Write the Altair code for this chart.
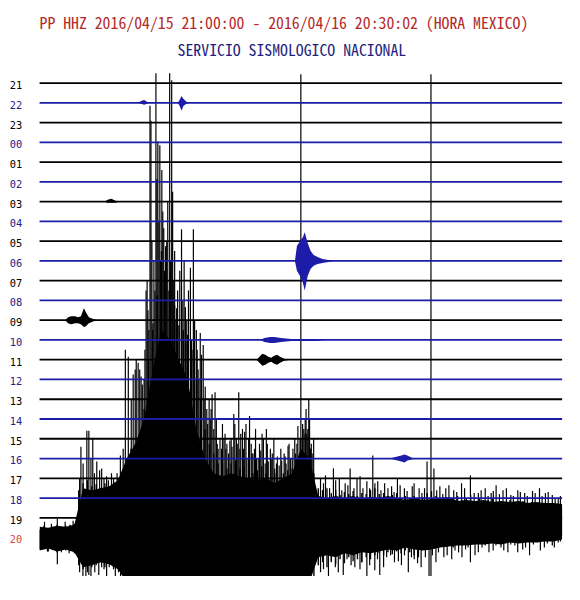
import altair as alt
import pandas as pd

TITLE = "PP HHZ 2016/04/15 21:00:00 - 2016/04/16 20:30:02 (HORA MEXICO)"
SUBTITLE = "SERVICIO SISMOLOGICO NACIONAL"

# one helicorder line per hour, 60 minutes wide
ROW_LABELS = ["21", "22", "23", "00", "01", "02", "03", "04", "05", "06", "07", "08",
              "09", "10", "11", "12", "13", "14", "15", "16", "17", "18", "19", "20"]
ROW_SPACING = 20          # trace offset in amplitude units
MINUTES = 60

# dense core of the large arrival on the 19h line, every 1 min (upper, lower deflection)
CORE_STEP = 1.0
CORE_HI = [-9, -10, -8, -9, -7, 30, 28, 30, 32, 38,
           60, 75, 100, 150, 190, 180, 160, 140, 90, 60,
           45, 42, 45, 42, 40, 38, 40, 35, 40, 45,
           70, 60,
           22, 20, 22, 20, 22, 19, 21, 20, 22, 20,
           18, 20, 18, 19, 20, 21, 17, 18, 17, 18,
           16, 17, 16, 17, 15, 16, 15, 15, 14]
CORE_LO = [-33, -31, -34, -32, -35, -50, -48, -45, -47, -52] + [-65] * 22 + [
           -40, -38, -40, -36, -38, -35, -36, -34, -32, -33,
           -30, -32, -33, -32, -30, -29, -28, -28, -27, -27,
           -26, -27, -25, -26, -25, -25, -24, -24, -22]

# envelope extremes sampled every 0.5 min
ENV_STEP = 0.5
ENV_HI = [-12, -8, -11, -9, -7, -10, -8, -7, -6,
          28, 35, 38, 32, 34, 30, 35, 32, 36, 40, 45,
          60, 70, 75, 85, 110, 160, 190, 225, 270, 275,
          250, 215, 195, 190, 185, 170, 140, 120, 90, 75,
          65, 55, 55, 50, 55, 58, 50, 52, 55, 45,
          48, 52, 45, 40, 45, 38, 45, 48, 50, 60,
          80, 85, 70, 45, 30, 28, 30, 25, 28, 23,
          26, 24, 27, 22, 25, 24, 28, 30, 24, 25,
          20, 23, 25, 20, 22, 18, 22, 20, 21, 25,
          27, 22, 18, 20, 17, 20, 22, 18, 20, 23,
          17, 20, 15, 18, 20, 15, 17, 14, 18, 15,
          13, 17, 14, 16, 13, 15, 12, 14, 12, 13, 10]
ENV_LO = [-32, -30, -34, -32, -35, -31, -33, -32, -36,
          -48, -52, -55, -50, -48, -45, -50, -46, -50, -52, -58] + [-65] * 44 + [
          -48, -45, -50, -44, -47, -42, -46, -40, -44, -42,
          -45, -40, -42, -38, -36, -38, -35, -37, -34, -36,
          -33, -35, -38, -40, -32, -30, -28, -30, -27, -29,
          -26, -30, -26, -24, -27, -23, -25, -22, -24, -21,
          -23, -20, -22, -24, -20, -22, -19, -21, -18, -20,
          -18, -20, -19, -21, -18, -20, -18]

# individual peaks on the 19h line (minute, deflection)
UP_T = [4.75, 5.43, 5.66, 6.11, 6.57, 7.13, 7.70, 8.26, 9.28, 9.85, 10.19, 10.53, 10.75,
        10.98, 11.32, 11.66, 12.00, 12.23, 12.45, 12.68, 12.79, 13.02, 13.13, 13.36, 13.47,
        13.58, 13.81, 14.04, 14.26, 14.49, 14.72, 14.94, 15.17, 15.28, 15.51, 15.74, 16.30,
        16.75, 17.32, 17.66, 18.00, 18.45, 18.79, 19.02, 19.47, 19.81, 20.15, 20.72, 21.17,
        21.51, 21.85, 22.42, 22.87, 23.55, 24.11, 24.68, 25.25, 25.70, 26.04, 26.26, 26.72,
        27.51, 28.08, 28.53, 29.09, 29.66, 30.00, 30.34, 30.91, 31.47, 32.26, 32.83, 33.74,
        34.42, 35.09, 35.66, 36.45, 37.13, 37.58, 38.26, 38.83, 39.62, 40.42, 41.09, 41.89,
        42.79, 43.58, 44.49, 44.94, 45.28, 45.96, 46.64, 47.55, 48.45, 49.47, 50.38, 51.17,
        51.85, 52.42, 53.21, 54.11, 54.91, 55.70, 56.60, 57.40, 58.08, 58.87, 59.55]
UP_V = [72, 88, 88, 80, 57, 50, 42, 45, 63, 170, 163, 120, 145,
        150, 157, 143, 140, 230, 210, 417, 402, 197, 260, 450, 343,
        381, 377, 352, 293, 273, 320, 450, 443, 330, 270, 212, 292,
        213, 253, 292, 190, 187, 175, 133, 120, 125, 127, 80, 80,
        75, 78, 95, 127, 87, 103, 70, 75, 80, 90, 57, 65,
        53, 65, 73, 70, 93, 449, 90, 120, 80, 40, 43, 50,
        40, 35, 50, 40, 30, 37, 63, 37, 35, 32, 40, 30,
        32, 30, 57, 449, 50, 32, 30, 28, 35, 43, 25, 30,
        25, 33, 28, 23, 28, 25, 27, 30, 25, 23, 20]
UP2_T = [4.6, 5.0, 5.9, 6.3, 6.9, 7.4, 7.9, 8.5, 8.9, 9.6,
         11.1, 11.5, 11.8, 12.1, 12.35, 12.55, 12.9, 13.25, 13.7, 13.9, 14.15, 14.35, 14.6,
         14.85, 15.05, 15.4, 15.65, 15.85, 16.1, 16.45, 16.6, 16.9, 17.1, 17.45, 17.8, 18.1,
         18.2, 18.3, 18.6, 18.9, 19.2, 19.3, 19.6, 19.7, 20.0, 20.3, 20.4, 20.5, 20.9, 21.0,
         21.3, 21.4, 21.7, 22.0, 22.1, 22.3, 22.6, 22.7, 23.0, 23.1, 23.3, 23.4, 23.7, 23.8,
         24.0, 24.3, 24.4, 24.5, 24.8, 24.9, 25.1, 25.4, 25.55, 25.9, 26.15, 26.5, 26.6, 26.9,
         27.0, 27.2, 27.3, 27.7, 27.8, 28.2, 28.3, 28.65, 28.8, 29.0, 29.3, 29.4, 29.55, 29.9,
         30.2, 30.5, 30.6, 30.7, 30.8, 31.0, 31.1, 31.2, 31.3,
         32.6, 33.3, 34.0, 34.7, 35.4, 36.1, 36.8, 37.9, 38.5, 39.2, 40.0, 40.7, 41.4, 42.2,
         43.0, 43.9, 44.2, 45.6, 46.3, 47.0, 47.9, 48.8, 49.9, 50.7, 51.5, 52.1, 52.8, 53.6,
         54.4, 55.2, 56.0, 56.9, 57.7, 58.4, 59.2, 59.8]
UP2_V = [40, 55, 60, 45, 48, 40, 38, 40, 45, 70,
         160, 150, 135, 170, 240, 190, 280, 230, 300, 260, 310, 250, 280,
         230, 260, 240, 200, 230, 250, 220, 260, 200, 230, 180, 200, 170,
         150, 140, 165, 120, 110, 95, 100, 110, 90, 100, 75, 70, 70, 95,
         85, 70, 65, 80, 72, 105, 80, 75, 70, 85, 90, 70, 95, 60,
         80, 75, 65, 65, 90, 60, 60, 68, 85, 55, 75, 70, 60, 80,
         50, 55, 62, 70, 58, 62, 55, 75, 60, 60, 80, 65, 75, 80,
         95, 100, 110, 85, 90, 100, 70, 75, 65,
         35, 30, 38, 28, 33, 30, 42, 30, 35, 28, 30, 26, 33, 27,
         35, 25, 30, 28, 24, 33, 26, 30, 25, 28, 22, 27, 24, 30,
         22, 26, 22, 25, 22, 26, 20, 22]
DOWN_T = [4.6, 4.98, 5.32, 5.66, 5.9, 6.34, 6.8, 7.13, 7.4, 7.70, 8.0, 8.49, 8.7, 9.06, 9.3,
          30.00, 32.26, 32.6, 33.17, 33.5, 33.96, 34.3,
          34.87, 35.3, 35.77, 36.2, 36.79, 37.0, 37.58, 37.9, 38.49, 38.8, 39.06, 39.5, 39.85,
          40.3, 40.75, 41.2, 41.55, 41.9, 42.34, 42.7, 43.02, 43.4,
          43.81, 44.3, 44.72, 44.94, 45.1, 45.51, 45.8, 46.42, 46.8, 47.32, 47.7, 48.11, 48.5,
          48.91, 49.2, 49.47, 50.0, 50.38, 50.8, 51.17, 51.6,
          52.08, 52.4, 52.98, 53.3, 53.77, 54.1, 54.57, 54.9, 55.47, 55.8, 56.26, 56.7, 57.17,
          57.5, 57.96, 58.3, 58.87, 59.1, 59.55, 59.8]
DOWN_V = [-55, -65, -65, -58, -60, -55, -58, -50, -52, -65, -50, -52, -60, -55, -62,
          -65, -55, -52, -65, -45, -50, -55,
          -58, -42, -48, -50, -52, -45, -65, -48, -53, -42, -58, -50, -40,
          -38, -45, -44, -48, -38, -55, -40, -42, -46,
          -50, -40, -65, -65, -38, -45, -35, -40, -38, -42, -33, -35, -40,
          -32, -30, -45, -38, -35, -30, -28, -35,
          -33, -28, -30, -33, -35, -27, -28, -35, -32, -30, -38, -27, -25,
          -33, -30, -26, -28, -30, -25, -24]

# noise peaks on the partial 20h line
R20_T = [0.57, 0.90, 1.36, 2.04, 2.04, 2.50, 2.94, 3.40, 3.85]
R20_V = [16, -14, 14, 19, -27, -15, 16, -16, 17]

# local events: row -> (minutes, upward, downward)
EVENTS = {
    "22a": ("22", [11.32, 11.66, 12.00, 12.34, 12.68], [0, 2, 3, 1, 0], [0, 1, 2, 1, 0]),
    "22b": ("22", [15.85, 16.08, 16.30, 16.53, 16.87, 17.21], [0, 3, 7, 4, 1, 0], [0, 3, 8, 3, 1, 0]),
    "03": ("03", [7.47, 7.81, 8.26, 8.72, 9.06], [0, 2, 3, 1, 0], [0, 1, 1, 1, 0]),
    "06": ("06", [29.32, 29.55, 29.89, 30.23, 30.45, 30.79, 31.13, 31.47, 31.92, 32.49, 33.17, 33.74],
           [0, 15, 20, 24, 29, 18, 10, 6, 4, 2, 1, 0], [0, 10, 15, 22, 30, 15, 8, 5, 3, 2, 1, 0]),
    "09": ("09", [2.94, 3.28, 3.62, 4.08, 4.42, 4.75, 5.09, 5.32, 5.66, 6.23, 6.79],
           [0, 3, 4, 4, 3, 4, 12, 8, 3, 1, 0], [0, 3, 4, 3, 3, 4, 7, 6, 3, 1, 0]),
    "10": ("10", [25.36, 25.81, 26.49, 26.94, 27.74, 28.87, 31.70, 32.83],
           [0, 2, 3, 3, 2, 1, 1, 0], [0, 2, 3, 3, 2, 1, 1, 0]),
    "11": ("11", [24.91, 25.25, 25.58, 25.92, 26.26, 26.60, 26.94, 27.28, 27.62, 28.08, 28.87],
           [0, 3, 6, 5, 3, 2, 4, 5, 3, 1, 0], [0, 3, 6, 5, 3, 2, 4, 5, 3, 1, 0]),
    "16": ("16", [40.30, 40.64, 41.09, 41.55, 41.89, 42.23, 42.68, 43.02],
           [0, 1, 2, 3, 4, 3, 1, 0], [0, 1, 2, 3, 4, 2, 1, 0]),
}

TRACE_BLACK = "#000000"
TRACE_BLUE = "#1c1ca8"
LABEL_BLUE = "#22228a"
LABEL_RED = "#dd4444"
TITLE_RED = "#b52828"
SUB_BLUE = "#1f1f80"
TFONT = "Noto Sans Mono CJK SC, Liberation Mono, monospace"

# ---- tables ----
idx_of = {lab: i for i, lab in enumerate(ROW_LABELS)}
rows = pd.DataFrame({"label": ROW_LABELS, "idx": range(len(ROW_LABELS))})
rows["level"] = rows["idx"] * ROW_SPACING
rows["trace_color"] = [TRACE_BLACK if i % 2 == 0 else TRACE_BLUE for i in rows["idx"]]
rows["label_color"] = [LABEL_RED if lab == "20" else (TRACE_BLACK if i % 2 == 0 else LABEL_BLUE)
                       for lab, i in zip(rows["label"], rows["idx"])]
rows["x0"] = 0
rows["x1"] = MINUTES
base_rows = rows[rows["label"] != "20"]

base19 = idx_of["19"] * ROW_SPACING
base20 = idx_of["20"] * ROW_SPACING

core = pd.DataFrame({"t": [k * CORE_STEP for k in range(len(CORE_HI))], "hi": CORE_HI, "lo": CORE_LO})
core["top"] = base19 - core["hi"]
core["bot"] = base19 - core["lo"]

env = pd.DataFrame({"t": [k * ENV_STEP for k in range(len(ENV_HI))], "hi": ENV_HI, "lo": ENV_LO})
env["top"] = base19 - env["hi"]
env["bot"] = base19 - env["lo"]

sp = pd.concat([
    pd.DataFrame({"t": UP_T, "v": UP_V, "base": base19}),
    pd.DataFrame({"t": UP2_T, "v": UP2_V, "base": base19}),
    pd.DataFrame({"t": DOWN_T, "v": DOWN_V, "base": base19}),
    pd.DataFrame({"t": R20_T, "v": R20_V, "base": base20}),
], ignore_index=True)
sp["tip"] = sp["base"] - sp["v"]

ev_parts = []
for name, (lab, ts, ups, dns) in EVENTS.items():
    lvl = idx_of[lab] * ROW_SPACING
    col = TRACE_BLACK if idx_of[lab] % 2 == 0 else TRACE_BLUE
    ev_parts.append(pd.DataFrame({"ev": name, "t": ts,
                                  "top": [lvl - u for u in ups],
                                  "bot": [lvl + d for d in dns],
                                  "c": col}))
events = pd.concat(ev_parts, ignore_index=True)

XS = alt.Scale(domain=[0, MINUTES], nice=False, zero=False)
YS = alt.Scale(domain=[-12, 499], reverse=True, nice=False, zero=False)

core_layer = alt.Chart(core).mark_area(color="black", clip=True, interpolate="linear").encode(
    x=alt.X("t:Q", scale=XS, axis=None),
    y=alt.Y("top:Q", scale=YS, axis=None),
    y2="bot:Q",
)

env_layer = alt.Chart(env).mark_rule(color="black", strokeWidth=1.4, clip=True).encode(
    x=alt.X("t:Q", scale=XS, axis=None),
    y=alt.Y("top:Q", scale=YS, axis=None),
    y2="bot:Q",
)

spike_layer = alt.Chart(sp).mark_rule(color="black", strokeWidth=1.2, clip=True).encode(
    x=alt.X("t:Q", scale=XS, axis=None),
    y=alt.Y("base:Q", scale=YS, axis=None),
    y2="tip:Q",
)

base_layer = alt.Chart(base_rows).mark_rule(strokeWidth=1.8).encode(
    x=alt.X("x0:Q", scale=XS, axis=None),
    x2="x1:Q",
    y=alt.Y("level:Q", scale=YS, axis=None),
    color=alt.Color("trace_color:N", scale=None),
)

event_layer = alt.Chart(events).mark_area(clip=True, interpolate="linear").encode(
    x=alt.X("t:Q", scale=XS, axis=None),
    y=alt.Y("top:Q", scale=YS, axis=None),
    y2="bot:Q",
    detail="ev:N",
    color=alt.Color("c:N", scale=None),
)

label_layer = alt.Chart(rows).mark_text(
    align="center", baseline="middle", dy=3, font="DejaVu Sans Mono", fontSize=10.5
).encode(
    x=alt.value(-24),
    y=alt.Y("level:Q", scale=YS, axis=None),
    text="label:N",
    color=alt.Color("label_color:N", scale=None),
)

title_layer = alt.Chart(pd.DataFrame({"s": [TITLE]})).mark_text(
    align="left", baseline="alphabetic", font=TFONT, fontSize=16, color=TITLE_RED
).encode(x=alt.value(0), y=alt.value(-43), text="s:N")

sub_layer = alt.Chart(pd.DataFrame({"s": [SUBTITLE]})).mark_text(
    align="left", baseline="alphabetic", font=TFONT, fontSize=16, color=SUB_BLUE
).encode(x=alt.value(140), y=alt.value(-15), text="s:N")

chart = alt.layer(
    core_layer, env_layer, spike_layer, base_layer, event_layer,
    label_layer, title_layer, sub_layer
).properties(
    width=530, height=512,
    autosize=alt.AutoSizeParams(type="none"),
    padding={"left": 32, "top": 60, "right": 10, "bottom": 12},
    background="white",
).configure_view(stroke=None)

chart.save("out.html", embed_options={"renderer": "svg", "actions": False})
